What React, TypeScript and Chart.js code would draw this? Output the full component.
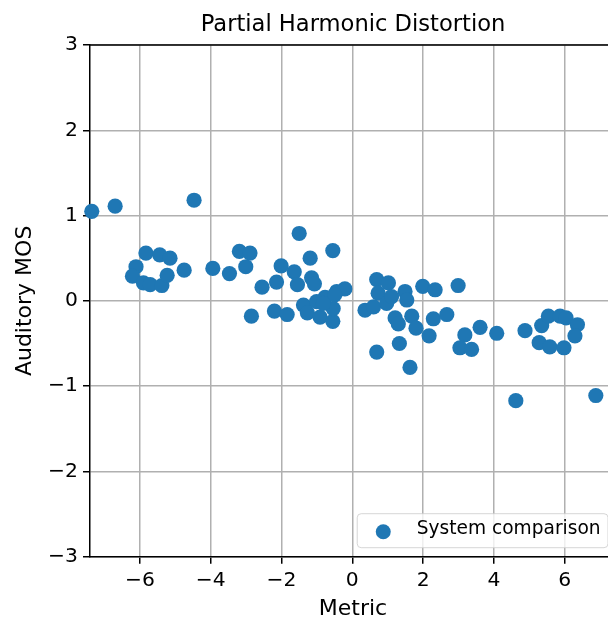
import { useEffect, useRef } from "react";
import { Chart, registerables } from "chart.js";

Chart.register(...registerables);

const CHART_TITLE = "Partial Harmonic Distortion";
const X_LABEL = "Metric";
const Y_LABEL = "Auditory MOS";
const SERIES_LABEL = "System comparison";

const X_MIN = -7.41;
const X_MAX = 7.45;
const Y_MIN = -3;
const Y_MAX = 3;
const X_STEP = 2;
const Y_STEP = 1;

const metricValues = [
  -7.36, -6.7, -4.47, -5.83, -5.44, -5.15, -6.11, -6.21, -5.9, -5.71,
  -5.38, -5.23, -4.75, -3.94, -3.47, -3.19, -2.89, -3.01, -2.55, -2.85,
  -1.5, -1.19, -0.55, -2.01, -1.64, -1.15, -1.07, -1.55, -2.14, -2.2,
  -1.84, -1.38, -1.27, -0.91, -0.55, -0.54, -0.77, -1.01, -0.44, -0.21,
  -0.5, -0.82, 0.69, 1.02, 0.73, 0.36, 0.6, 0.97, 1.11, 1.49,
  1.54, 1.99, 1.21, 1.68, 1.8, 2.34, 2.99, 1.3, 2.17, 2.29,
  2.67, 0.69, 1.33, 1.63, 3.18, 3.04, 3.37, 3.61, 4.08, 4.88,
  5.35, 5.54, 5.87, 6.04, 6.36, 6.29, 5.28, 5.58, 5.98, 4.62,
  6.88,
];

const mosValues = [
  1.05, 1.11, 1.18, 0.56, 0.54, 0.5, 0.4, 0.29, 0.21, 0.19,
  0.18, 0.3, 0.36, 0.38, 0.32, 0.58, 0.56, 0.4, 0.16, -0.18,
  0.79, 0.5, 0.59, 0.41, 0.34, 0.27, 0.2, 0.19, 0.22, -0.12,
  -0.16, -0.05, -0.14, -0.19, -0.24, -0.09, 0.04, -0.01, 0.11, 0.14,
  0.07, -0.03, 0.25, 0.21, 0.09, -0.11, -0.07, -0.03, 0.05, 0.11,
  0.01, 0.17, -0.2, -0.18, -0.32, 0.13, 0.18, -0.27, -0.41, -0.21,
  -0.16, -0.6, -0.5, -0.78, -0.4, -0.55, -0.57, -0.31, -0.38, -0.35,
  -0.29, -0.18, -0.18, -0.2, -0.28, -0.41, -0.49, -0.54, -0.55, -1.17,
  -1.11,
];

const BLUE = "#1f77b4";
const FONT = "'DejaVu Sans', sans-serif";

const spinePlugin = {
  id: "topSpine",
  afterDatasetsDraw(chart: any) {
    const { ctx, chartArea } = chart;
    ctx.save();
    ctx.strokeStyle = "#000";
    ctx.lineWidth = 1.5;
    ctx.beginPath();
    ctx.moveTo(chartArea.left - 0.75, chartArea.top);
    ctx.lineTo(chartArea.right, chartArea.top);
    ctx.moveTo(chartArea.right, chartArea.top);
    ctx.lineTo(chartArea.right, chartArea.bottom);
    ctx.stroke();
    ctx.restore();
  },
};

const boxLegendPlugin = {
  id: "boxLegend",
  afterDraw(chart: any) {
    const { ctx, chartArea } = chart;
    const ds = chart.data.datasets[0];
    const fs = 18.6;
    ctx.save();
    ctx.font = `${fs}px ${FONT}`;
    const textW = ctx.measureText(ds.label).width;
    const pad = 0.4 * fs;
    const handleLen = 2 * fs;
    const gap = 0.8 * fs;
    const w = pad * 2 + handleLen + gap + textW;
    const h = 34;
    const right = chartArea.right - 8;
    const bottom = chartArea.bottom - 9;
    const left = right - w;
    const top = bottom - h;
    const r = 4;
    ctx.beginPath();
    ctx.moveTo(left + r, top);
    ctx.lineTo(right - r, top);
    ctx.quadraticCurveTo(right, top, right, top + r);
    ctx.lineTo(right, bottom - r);
    ctx.quadraticCurveTo(right, bottom, right - r, bottom);
    ctx.lineTo(left + r, bottom);
    ctx.quadraticCurveTo(left, bottom, left, bottom - r);
    ctx.lineTo(left, top + r);
    ctx.quadraticCurveTo(left, top, left + r, top);
    ctx.closePath();
    ctx.fillStyle = "rgba(255,255,255,0.8)";
    ctx.fill();
    ctx.strokeStyle = "rgba(204,204,204,0.8)";
    ctx.lineWidth = 1;
    ctx.stroke();
    const cy = (top + bottom) / 2;
    ctx.fillStyle = ds.backgroundColor;
    ctx.beginPath();
    ctx.arc(left + pad + handleLen / 2, cy + 1, 7.5, 0, Math.PI * 2);
    ctx.fill();
    ctx.fillStyle = "#000";
    ctx.textAlign = "left";
    ctx.textBaseline = "middle";
    ctx.fillText(ds.label, left + pad + handleLen + gap, cy - 1.5);
    ctx.restore();
  },
};

export default function App() {
  const canvasRef = useRef<HTMLCanvasElement | null>(null);

  useEffect(() => {
    const canvas = canvasRef.current;
    if (!canvas) return;
    const points = metricValues.map((x, i) => ({ x, y: mosValues[i] }));
    const chart = new Chart(canvas, {
      type: "scatter",
      data: {
        datasets: [
          {
            label: SERIES_LABEL,
            data: points,
            backgroundColor: BLUE,
            borderColor: BLUE,
            borderWidth: 0,
            pointRadius: 7.6,
            pointHoverRadius: 7.6,
            clip: false as any,
          },
        ],
      },
      options: {
        animation: false,
        responsive: false,
        devicePixelRatio: 1,
        layout: { padding: { left: 0, right: 90, top: 0, bottom: 0 } },
        plugins: {
          legend: { display: false },
          tooltip: { enabled: false },
          title: {
            display: true,
            fullSize: false,
            text: CHART_TITLE,
            color: "#000",
            font: { family: FONT, size: 22.6, weight: "normal", lineHeight: 1.2 },
            padding: { top: 11.4, bottom: 6.5 },
          },
        },
        scales: {
          x: {
            type: "linear",
            min: X_MIN,
            max: X_MAX,
            afterFit: (s: any) => {
              s.height = 62.3;
            },
            ticks: {
              stepSize: X_STEP,
              includeBounds: false,
              color: "#000",
              padding: 5,
              font: { family: FONT, size: 20.3 },
              callback: (v: any) => String(v).replace("-", "\u2212"),
            },
            grid: {
              color: "#b0b0b0",
              lineWidth: 1.5,
              tickColor: "#000",
              tickWidth: 1.5,
              tickLength: 7,
            },
            border: { color: "#000", width: 1.5 },
            title: {
              display: true,
              text: X_LABEL,
              color: "#000",
              font: { family: FONT, size: 22, lineHeight: 0.85 },
              padding: { top: 0, bottom: 0 },
            },
          },
          y: {
            type: "linear",
            min: Y_MIN,
            max: Y_MAX,
            afterFit: (s: any) => {
              s.width = 90;
            },
            ticks: {
              stepSize: Y_STEP,
              color: "#000",
              padding: 5,
              font: { family: FONT, size: 20.3 },
              callback: (v: any) => String(v).replace("-", "\u2212"),
            },
            grid: {
              color: "#b0b0b0",
              lineWidth: 1.5,
              tickColor: "#000",
              tickWidth: 1.5,
              tickLength: 7,
            },
            border: { color: "#000", width: 1.5 },
            title: {
              display: true,
              text: Y_LABEL,
              color: "#000",
              font: { family: FONT, size: 22, lineHeight: 1.2 },
              padding: { top: 12, bottom: 0 },
            },
          },
        },
      },
      plugins: [spinePlugin, boxLegendPlugin],
    });
    return () => chart.destroy();
  }, []);

  return (
    <div
      style={{
        position: "absolute",
        left: 0,
        top: 0,
        width: 608,
        height: 619,
        overflow: "hidden",
        background: "#fff",
      }}
    >
      <canvas ref={canvasRef} width={706} height={619} style={{ display: "block", width: 706, height: 619 }} />
    </div>
  );
}
